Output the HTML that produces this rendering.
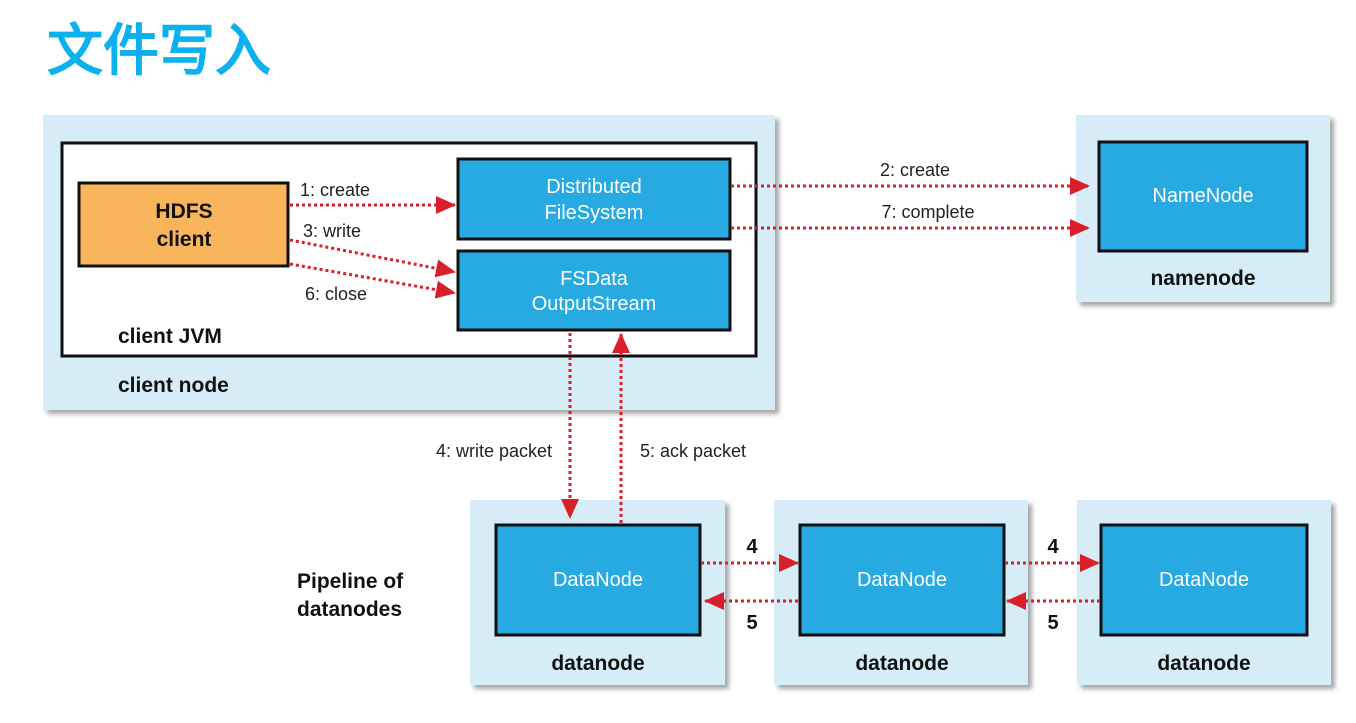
<!DOCTYPE html>
<html><head><meta charset="utf-8"><style>
html,body{margin:0;padding:0;background:#fff;}
svg{display:block}
text{font-family:"Liberation Sans","DejaVu Sans",sans-serif;}
</style></head><body>
<svg width="1356" height="723" viewBox="0 0 1356 723" xmlns="http://www.w3.org/2000/svg">
<defs>
<filter id="sh" x="-5%" y="-5%" width="115%" height="115%"><feDropShadow dx="4" dy="4" stdDeviation="2.5" flood-color="#000" flood-opacity="0.35"/></filter>
<marker id="ah" markerWidth="20" markerHeight="18" refX="19" refY="9" orient="auto" markerUnits="userSpaceOnUse" viewBox="0 0 20 18"><path d="M0,0 L20,9 L0,18 z" fill="#d9202a"/></marker>
</defs>
<text x="47" y="70" font-family="'Liberation Sans','Noto Sans CJK SC',sans-serif" font-size="56" font-weight="bold" fill="#0bb0ee">文件写入</text>

<!-- client node -->
<rect x="43" y="115" width="732" height="295" fill="#d6ecf7" filter="url(#sh)"/>
<rect x="62" y="143" width="694" height="213" fill="#fff" stroke="#111" stroke-width="3"/>
<rect x="79" y="183" width="209" height="83" fill="#f8b55c" stroke="#111" stroke-width="3"/>
<text x="184" y="218" font-size="21" font-weight="bold" text-anchor="middle" fill="#111">HDFS</text>
<text x="184" y="246" font-size="21" font-weight="bold" text-anchor="middle" fill="#111">client</text>
<rect x="458" y="159" width="272" height="80" fill="#27a9e1" stroke="#111" stroke-width="3"/>
<text x="594" y="193" font-size="20" text-anchor="middle" fill="#fff">Distributed</text>
<text x="594" y="219" font-size="20" text-anchor="middle" fill="#fff">FileSystem</text>
<rect x="458" y="251" width="272" height="79" fill="#27a9e1" stroke="#111" stroke-width="3"/>
<text x="594" y="285" font-size="20" text-anchor="middle" fill="#fff">FSData</text>
<text x="594" y="310" font-size="20" text-anchor="middle" fill="#fff">OutputStream</text>
<text x="118" y="343" font-size="21" font-weight="bold" fill="#111">client JVM</text>
<text x="118" y="392" font-size="21" font-weight="bold" fill="#111">client node</text>

<!-- namenode -->
<rect x="1076" y="115" width="254" height="187" fill="#d6ecf7" filter="url(#sh)"/>
<rect x="1099" y="142" width="208" height="109" fill="#27a9e1" stroke="#111" stroke-width="3"/>
<text x="1203" y="202" font-size="20" text-anchor="middle" fill="#fff">NameNode</text>
<text x="1203" y="285" font-size="21" font-weight="bold" text-anchor="middle" fill="#111">namenode</text>

<!-- datanodes -->
<g>
<rect x="470" y="500" width="255" height="185" fill="#d6ecf7" filter="url(#sh)"/>
<rect x="496" y="525" width="204" height="110" fill="#27a9e1" stroke="#111" stroke-width="3"/>
<text x="598" y="586" font-size="20" text-anchor="middle" fill="#fff">DataNode</text>
<text x="598" y="670" font-size="21" font-weight="bold" text-anchor="middle" fill="#111">datanode</text>
<rect x="774" y="500" width="254" height="185" fill="#d6ecf7" filter="url(#sh)"/>
<rect x="800" y="525" width="204" height="110" fill="#27a9e1" stroke="#111" stroke-width="3"/>
<text x="902" y="586" font-size="20" text-anchor="middle" fill="#fff">DataNode</text>
<text x="902" y="670" font-size="21" font-weight="bold" text-anchor="middle" fill="#111">datanode</text>
<rect x="1077" y="500" width="254" height="185" fill="#d6ecf7" filter="url(#sh)"/>
<rect x="1101" y="525" width="206" height="110" fill="#27a9e1" stroke="#111" stroke-width="3"/>
<text x="1204" y="586" font-size="20" text-anchor="middle" fill="#fff">DataNode</text>
<text x="1204" y="670" font-size="21" font-weight="bold" text-anchor="middle" fill="#111">datanode</text>
</g>
<text x="297" y="588" font-size="21" font-weight="bold" fill="#111">Pipeline of</text>
<text x="297" y="616" font-size="21" font-weight="bold" fill="#111">datanodes</text>

<!-- arrows -->
<g stroke="#d9202a" stroke-width="3" stroke-dasharray="3,3" fill="none" marker-end="url(#ah)">
<line x1="290" y1="205" x2="455" y2="205"/>
<line x1="290" y1="240" x2="455" y2="272"/>
<line x1="290" y1="264" x2="455" y2="293"/>
<line x1="731" y1="186" x2="1089" y2="186"/>
<line x1="731" y1="228" x2="1089" y2="228"/>
<line x1="570" y1="333" x2="570" y2="518"/>
<line x1="621" y1="523" x2="621" y2="334"/>
<line x1="701" y1="563" x2="798" y2="563"/>
<line x1="798" y1="601" x2="705" y2="601"/>
<line x1="1005" y1="563" x2="1099" y2="563"/>
<line x1="1100" y1="601" x2="1007" y2="601"/>
</g>
<g font-size="18" fill="#222">
<text x="300" y="196">1: create</text>
<text x="303" y="237">3: write</text>
<text x="305" y="300">6: close</text>
<text x="915" y="176" text-anchor="middle">2: create</text>
<text x="928" y="218" text-anchor="middle">7: complete</text>
<text x="552" y="457" text-anchor="end">4: write packet</text>
<text x="640" y="457">5: ack packet</text>
</g>
<g font-size="20" font-weight="bold" fill="#111" text-anchor="middle">
<text x="752" y="553">4</text><text x="752" y="629">5</text>
<text x="1053" y="553">4</text><text x="1053" y="629">5</text>
</g>
</svg>
</body></html>
